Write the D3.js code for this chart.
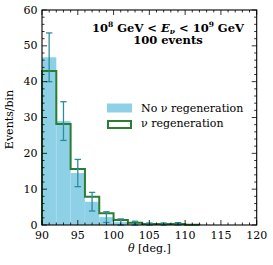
<!DOCTYPE html>
<html><head><meta charset="utf-8">
<script src="https://cdn.jsdelivr.net/npm/d3@7"></script>
<style>body{margin:0;background:#fff}svg{display:block}text{font-family:"DejaVu Serif","Liberation Serif",serif}</style>
</head><body><div id="c"></div>
<script>
const binEdges = [90,92,94,96,98,100,102,104,106,108,110,112];
const noRegen = [46.8, 29.0, 14.5, 6.5, 2.2, 0.8, 0.45, 0.2, 0.2, 0.25, 0];
const noRegenErr = [6.8, 5.4, 3.8, 2.6, 1.5, 0.9, 0.6, 0.35, 0.35, 0.4, 0];
const regen = [43.0, 28.2, 15.6, 7.9, 3.3, 1.4, 0.65, 0.3, 0.3, 0.3, 0.1];
const xTicks = [90,95,100,105,110,115,120];
const yTicks = [0,10,20,30,40,50,60];
const legendLabels = ["No \u03BD regeneration", "\u03BD regeneration"];

const W=273,H=265, m={l:42,t:10,r:16.3,b:40};
const pw=W-m.l-m.r, ph=H-m.t-m.b;
const svg=d3.select("#c").append("svg").attr("width",W).attr("height",H);
const g=svg.append("g").attr("transform",`translate(${m.l},${m.t})`);
const x=d3.scaleLinear().domain([90,120]).range([0,pw]);
const y=d3.scaleLinear().domain([0,60]).range([ph,0]);
const blue="#8ed1e6", green="#2b7d34", teal="#2d8c9c";

const bins=noRegen.map((v,i)=>({x0:binEdges[i],x1:binEdges[i+1],v,e:noRegenErr[i],r:regen[i]}));
g.selectAll("rect.b").data(bins).join("rect").attr("class","b")
 .attr("x",d=>x(d.x0)).attr("width",d=>x(d.x1)-x(d.x0))
 .attr("y",d=>y(d.v)).attr("height",d=>y(0)-y(d.v)).attr("fill",blue);
g.selectAll("line.sep").data(bins.slice(1)).join("line").attr("class","sep")
 .attr("x1",d=>x(d.x0)).attr("x2",d=>x(d.x0)).attr("y1",y(0))
 .attr("y2",(d,i)=>y(Math.min(d.v,bins[i].v))).attr("stroke","#a6dcec").attr("stroke-width",0.6);

let pts=[[x(binEdges[0]),y(0)]];
bins.forEach(d=>{pts.push([x(d.x0),y(d.r)]);pts.push([x(d.x1),y(d.r)]);});
pts.push([x(binEdges[binEdges.length-1]),y(0)]);
g.append("path").attr("d",d3.line()(pts)).attr("fill","none").attr("stroke",green).attr("stroke-width",2);

const eb=bins.filter(d=>d.v>0);
const gc=g.selectAll("g.eb").data(eb).join("g").attr("class","eb").attr("stroke",teal).attr("stroke-width",1.3);
gc.append("line").attr("x1",d=>x((d.x0+d.x1)/2)).attr("x2",d=>x((d.x0+d.x1)/2))
 .attr("y1",d=>y(Math.max(0,d.v-d.e))).attr("y2",d=>y(d.v+d.e));
[1,-1].forEach(s=>gc.append("line").attr("x1",d=>x((d.x0+d.x1)/2)-3.2).attr("x2",d=>x((d.x0+d.x1)/2)+3.2)
 .attr("y1",d=>y(Math.max(0,d.v+s*d.e))).attr("y2",d=>y(Math.max(0,d.v+s*d.e))));

g.append("rect").attr("width",pw).attr("height",ph).attr("fill","none").attr("stroke","#000").attr("stroke-width",1.1);
const tk=g.append("g").attr("stroke","#000").attr("stroke-width",0.8);
d3.range(90,121,1).forEach(v=>{const L=v%5===0?5:2.5;
 tk.append("line").attr("x1",x(v)).attr("x2",x(v)).attr("y1",ph).attr("y2",ph-L);
 tk.append("line").attr("x1",x(v)).attr("x2",x(v)).attr("y1",0).attr("y2",L);});
d3.range(0,61,2).forEach(v=>{const L=v%10===0?5:2.5;
 tk.append("line").attr("y1",y(v)).attr("y2",y(v)).attr("x1",0).attr("x2",L);
 tk.append("line").attr("y1",y(v)).attr("y2",y(v)).attr("x1",pw).attr("x2",pw-L);});
g.selectAll("text.xt").data(xTicks).join("text").attr("class","xt").attr("x",d=>x(d)).attr("y",ph+13.5)
 .attr("text-anchor","middle").attr("font-size",11).text(d=>d);
g.selectAll("text.yt").data(yTicks).join("text").attr("class","yt").attr("x",-4.5).attr("y",d=>y(d)+3.5)
 .attr("text-anchor","end").attr("font-size",11).text(d=>d);

svg.append("text").attr("transform",`translate(13,${m.t+ph/2+2}) rotate(-90)`).attr("text-anchor","middle")
 .attr("font-size",11).text("Events/bin");
const xl=svg.append("text").attr("x",m.l+pw/2).attr("y",252).attr("text-anchor","middle").attr("font-size",11);
xl.append("tspan").attr("font-style","italic").text("\u03B8");xl.append("tspan").text(" [deg.]");

const t1=svg.append("text").attr("x",168).attr("y",31.5).attr("text-anchor","middle").attr("font-size",11.5).attr("font-weight","bold");
t1.append("tspan").text("10");t1.append("tspan").attr("font-size",7.5).attr("dy",-4.5).text("8");
t1.append("tspan").attr("dy",4.5).text(" GeV < ");
t1.append("tspan").attr("font-style","italic").text("E");
t1.append("tspan").attr("font-style","italic").attr("font-size",7.5).attr("dy",2).text("\u03BD");
t1.append("tspan").attr("dy",-2).text(" < 10");
t1.append("tspan").attr("font-size",7.5).attr("dy",-4.5).text("9");
t1.append("tspan").attr("dy",4.5).text(" GeV");
svg.append("text").attr("x",168).attr("y",43.5).attr("text-anchor","middle").attr("font-size",11.5).attr("font-weight","bold").text("100 events");

const lg=svg.append("g");
lg.append("rect").attr("x",107).attr("y",103.5).attr("width",25).attr("height",9).attr("fill",blue);
lg.append("rect").attr("x",108).attr("y",121).attr("width",23).attr("height",7).attr("fill","none").attr("stroke",green).attr("stroke-width",2);
lg.selectAll("text").data(legendLabels).join("text").attr("x",141).attr("y",(d,i)=>112+i*15).attr("font-size",11).text(d=>d);
</script></body></html>
